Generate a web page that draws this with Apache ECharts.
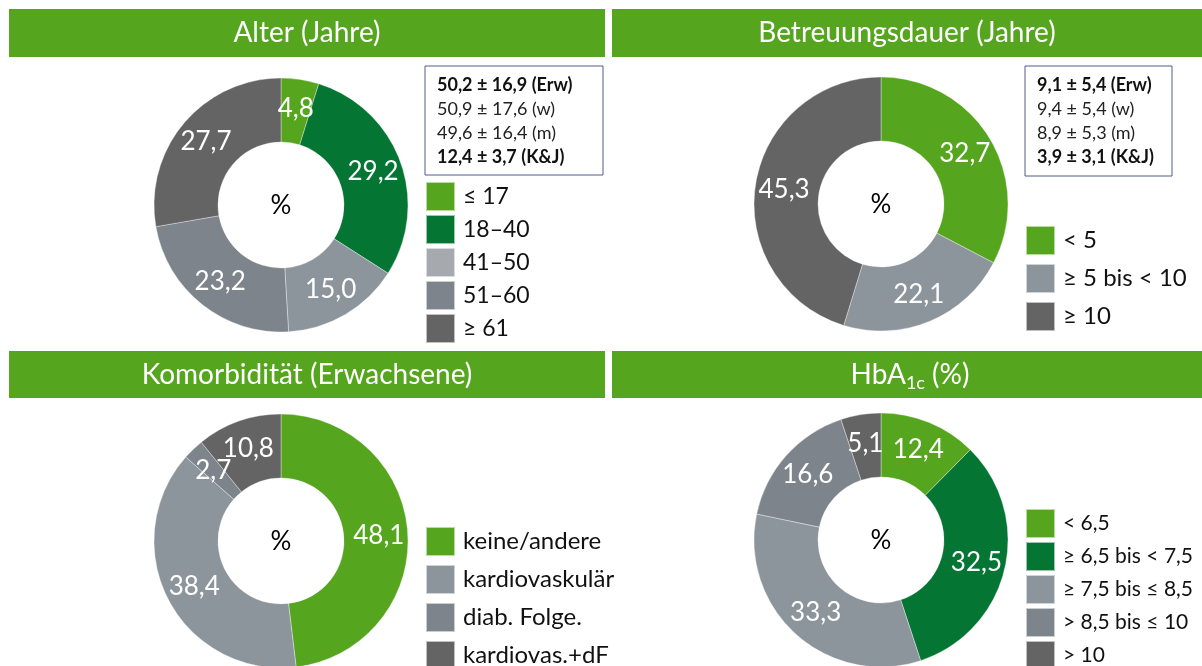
<!DOCTYPE html>
<html>
<head>
<meta charset="utf-8">
<script src="https://cdn.jsdelivr.net/npm/echarts@6/dist/echarts.min.js"></script>
<style>
  html, body { margin: 0; padding: 0; background: #fff; overflow: hidden; }
  #chart { width: 1202px; height: 720px; }
</style>
</head>
<body>
<div id="chart"></div>
<script>
// Daten
const alterNames = ["≤ 17", "18–40", "41–50", "51–60", "≥ 61"];
const alterValues = [4.8, 29.2, 15.0, 23.2, 27.7];
const alterStats = ["50,2 ± 16,9 (Erw)", "50,9 ± 17,6 (w)", "49,6 ± 16,4 (m)", "12,4 ± 3,7 (K&J)"];

const dauerNames = ["< 5", "≥ 5 bis < 10", "≥ 10"];
const dauerValues = [32.7, 22.1, 45.3];
const dauerStats = ["9,1 ± 5,4 (Erw)", "9,4 ± 5,4 (w)", "8,9 ± 5,3 (m)", "3,9 ± 3,1 (K&J)"];

const komorbNames = ["keine/andere", "kardiovaskulär", "diab. Folge.", "kardiovas.+dF"];
const komorbValues = [48.1, 38.4, 2.7, 10.8];

const hbaNames = ["< 6,5", "≥ 6,5 bis < 7,5", "≥ 7,5 bis ≤ 8,5", "> 8,5 bis ≤ 10", "> 10"];
const hbaValues = [12.4, 32.5, 33.3, 16.6, 5.1];

const GREEN = "#56a51f";
const DKGREEN = "#047533";
const GRAY1 = "#8c959c";
const GRAY2 = "#7d848b";
const GRAY3 = "#646464";
const FONT = "Lato, 'Open Sans', sans-serif";

function fmt(v) {
  return v.toFixed(1).replace(".", ",");
}

function donut(names, values, colors, center) {
  return {
    type: "pie",
    center: center,
    radius: [63, 127],
    startAngle: 90,
    clockwise: true,
    silent: true,
    avoidLabelOverlap: false,
    labelLayout: { hideOverlap: false },
    itemStyle: { borderColor: "rgba(255,255,255,0.6)", borderWidth: 0.6 },
    label: {
      show: true,
      position: "inside",
      color: "#fff",
      fontSize: 26,
      fontFamily: FONT,
      formatter: p => fmt(p.value)
    },
    labelLine: { show: false },
    data: names.map((n, i) => ({ name: n, value: values[i], itemStyle: { color: colors[i] } }))
  };
}

function legend(names, colors, left, top, gap, size) {
  return {
    orient: "vertical",
    left: left,
    top: top,
    padding: 0,
    itemWidth: 29,
    itemHeight: 29,
    itemGap: gap,
    icon: "rect",
    selectedMode: false,
    textStyle: { fontSize: size, color: "#111", fontFamily: FONT, padding: [0, 0, 0, 3] },
    data: names.map((n, i) => ({ name: n, itemStyle: { color: colors[i] } }))
  };
}

function header(x, y, w, h, text) {
  return [
    { type: "rect", shape: { x: x, y: y, width: w, height: h }, style: { fill: GREEN }, silent: true },
    {
      type: "text", x: x + w / 2, y: y + h / 2,
      style: { text: text, fill: "#fff", fontSize: 28, fontFamily: FONT, align: "center", verticalAlign: "middle" }
    }
  ];
}

function statBox(x, y, w, h, lines) {
  return [
    { type: "rect", shape: { x: x, y: y, width: w, height: h }, style: { fill: "#fff", stroke: "#4f5d8a", lineWidth: 1 } },
    {
      type: "text", x: x + 12, y: y + 7,
      style: {
        text: lines.map((l, i) => (i === 0 || i === 3 ? "{b|" + l + "}" : "{n|" + l + "}")).join("\n"),
        rich: {
          b: { fontSize: 18, fontWeight: "bold", fill: "#111", fontFamily: FONT, lineHeight: 24 },
          n: { fontSize: 18, fill: "#222", fontFamily: FONT, lineHeight: 24 }
        }
      }
    }
  ];
}

function pct(x, y) {
  return {
    type: "text", x: x, y: y,
    style: { text: "%", fill: "#000", fontSize: 26, fontFamily: FONT, align: "center", verticalAlign: "middle" }
  };
}

const chart = echarts.init(document.getElementById("chart"));
chart.setOption({
  backgroundColor: "#fff",
  animation: false,
  legend: [
    legend(alterNames, [GREEN, DKGREEN, "#a6a9ae", GRAY2, GRAY3], 425, 181, 2, 23),
    legend(dauerNames, [GREEN, GRAY1, GRAY3], 1025, 225, 7, 24),
    legend(komorbNames, [GREEN, GRAY1, GRAY2, GRAY3], 425, 526, 7, 24),
    legend(hbaNames, [GREEN, DKGREEN, GRAY1, GRAY2, GRAY3], 1025, 508, 2, 21)
  ],
  series: [
    donut(alterNames, alterValues, [GREEN, DKGREEN, GRAY1, GRAY2, GRAY3], [281, 205]),
    donut(dauerNames, dauerValues, [GREEN, GRAY1, GRAY3], [881, 204]),
    donut(komorbNames, komorbValues, [GREEN, GRAY1, GRAY2, GRAY3], [281, 541]),
    donut(hbaNames, hbaValues, [GREEN, DKGREEN, GRAY1, GRAY2, GRAY3], [881, 540])
  ],
  graphic: [].concat(
    header(9, 9, 596, 48, "Alter (Jahre)"),
    header(612, 9, 590, 48, "Betreuungsdauer (Jahre)"),
    header(9, 351, 596, 47, "Komorbidität (Erwachsene)"),
    [
      { type: "rect", shape: { x: 612, y: 351, width: 590, height: 47 }, style: { fill: GREEN }, silent: true },
      {
        type: "text", x: 910, y: 375,
        style: {
          text: "{a|HbA}{s|1c}{a| (%)}",
          align: "center", verticalAlign: "middle",
          rich: {
            a: { fontSize: 28, fill: "#fff", fontFamily: FONT, lineHeight: 32 },
            s: { fontSize: 18, fill: "#fff", fontFamily: FONT, lineHeight: 32, padding: [16, 0, 0, 0] }
          }
        }
      }
    ],
    statBox(425, 66, 178, 109, alterStats),
    statBox(1025, 66, 147, 110, dauerStats),
    [pct(281, 206), pct(881, 205), pct(281, 542), pct(881, 541)]
  )
});
</script>
</body>
</html>
